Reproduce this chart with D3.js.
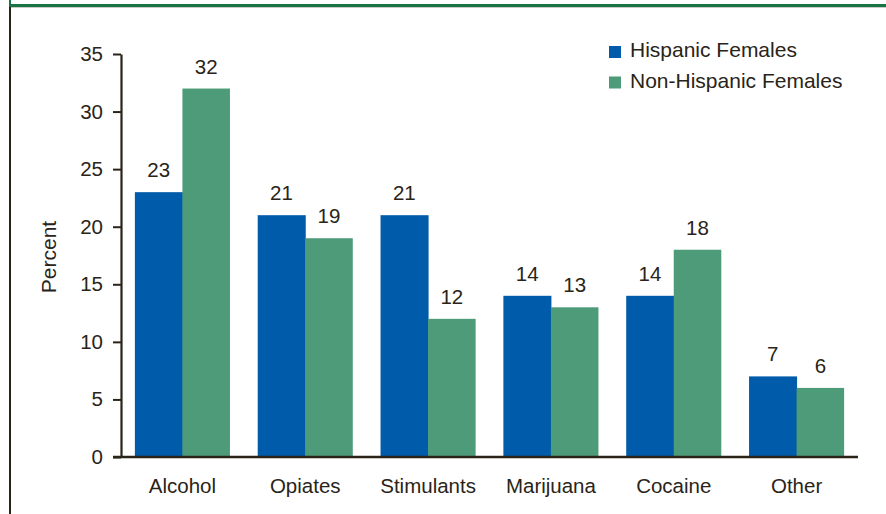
<!DOCTYPE html>
<html><head><meta charset="utf-8">
<script src="https://cdn.jsdelivr.net/npm/d3@7/dist/d3.min.js"></script>
<style>body{margin:0;background:#fff}svg{display:block}text{font-family:"Liberation Sans",Arial,sans-serif;fill:#2a2418}</style>
</head><body><svg id="c" width="886" height="514"></svg>
<script>
const categories = ["Alcohol","Opiates","Stimulants","Marijuana","Cocaine","Other"];
const seriesNames = ["Hispanic Females","Non-Hispanic Females"];
const hispanic = [23,21,21,14,14,7];
const nonHispanic = [32,19,12,13,18,6];
const yTicks = [0,5,10,15,20,25,30,35];
const colors = ["#005BAA","#4E9B79"];
const ink = "#2a2418";
const fs = "20.5px";

const svg = d3.select("#c");
// frame
svg.append("rect").attr("x",9).attr("y",0).attr("width",2).attr("height",7).attr("fill","#1a7343");
svg.append("rect").attr("x",9).attr("y",7).attr("width",2).attr("height",507).attr("fill",ink);
svg.append("rect").attr("x",9).attr("y",4).attr("width",877).attr("height",3).attr("fill","#1a7343");
svg.append("rect").attr("x",11).attr("y",7).attr("width",875).attr("height",1).attr("fill","#c9cbc4");

const pLeft=121, pRight=858, pTop=54, pBottom=457;
const x = d3.scaleBand().domain(categories).range([pLeft,pRight]).paddingInner(0.226).paddingOuter(0.113);
const xs = d3.scaleBand().domain(seriesNames).range([0,x.bandwidth()]);
const y = d3.scaleLinear().domain([0,35]).range([pBottom,pTop]);

const series=[hispanic,nonHispanic];
const g = svg.append("g");
series.forEach((vals,si)=>{
  g.selectAll(null).data(categories).enter().append("rect")
    .attr("x",c=>x(c)+xs(seriesNames[si]))
    .attr("y",(c,i)=>y(vals[i]))
    .attr("width",xs.bandwidth()+(si===0?0.5:0))
    .attr("height",(c,i)=>pBottom-y(vals[i]))
    .attr("fill",colors[si]);
  g.selectAll(null).data(categories).enter().append("text")
    .attr("x",c=>x(c)+xs(seriesNames[si])+xs.bandwidth()/2)
    .attr("y",(c,i)=>y(vals[i])-15)
    .attr("text-anchor","middle").attr("font-size",fs)
    .text((c,i)=>vals[i]);
});

// y axis
const ya = svg.append("g").attr("transform",`translate(${pLeft},0)`)
  .call(d3.axisLeft(y).tickValues(yTicks).tickSize(8).tickPadding(10).tickSizeOuter(0));
ya.select(".domain").attr("stroke",ink).attr("stroke-width",2.2);
ya.selectAll(".tick line").attr("stroke",ink).attr("stroke-width",2);
ya.selectAll(".tick text").attr("font-size",fs).attr("fill",ink).attr("font-family","Liberation Sans, Arial, sans-serif");

// x axis
const xa = svg.append("g").attr("transform",`translate(0,${pBottom})`)
  .call(d3.axisBottom(x).tickSize(0).tickPadding(21).tickSizeOuter(0));
xa.select(".domain").attr("stroke",ink).attr("stroke-width",2.6).attr("d",`M${pLeft-8},0H${pRight}`);
xa.selectAll(".tick text").attr("font-size",fs).attr("fill",ink).attr("font-family","Liberation Sans, Arial, sans-serif");

// y label
svg.append("text").attr("transform","translate(56,257) rotate(-90)")
  .attr("text-anchor","middle").attr("font-size","21px").text("Percent");

// legend
seriesNames.forEach((n,i)=>{
  const base = 57 + i*30.5;
  svg.append("rect").attr("x",609).attr("y",base-11).attr("width",12).attr("height",12).attr("fill",colors[i]);
  svg.append("text").attr("x",630).attr("y",base).attr("font-size","21px").text(n);
});
</script></body></html>
